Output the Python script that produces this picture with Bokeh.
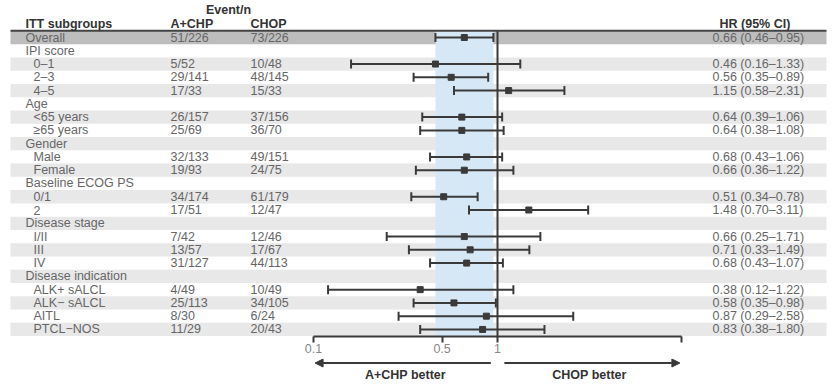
import numpy as np
from bokeh.plotting import figure
from bokeh.layouts import column
from bokeh.models import (Range1d, LogScale, LogAxis, FixedTicker, ColumnDataSource,
                          Arrow, NormalHead, Label, NumeralTickFormatter)
from bokeh.core.properties import value
from bokeh.embed import file_html
from bokeh.resources import INLINE

# ---------------- data ----------------
labels = ["Overall", "IPI score", "0–1", "2–3", "4–5", "Age", "<65 years", "≥65 years",
          "Gender", "Male", "Female", "Baseline ECOG PS", "0/1", "2", "Disease stage",
          "I/II", "III", "IV", "Disease indication", "ALK+ sALCL", "ALK− sALCL", "AITL",
          "PTCL−NOS"]
level = [0, 0, 1, 1, 1, 0, 1, 1, 0, 1, 1, 0, 1, 1, 0, 1, 1, 1, 0, 1, 1, 1, 1]
events_achp = ["51/226", "", "5/52", "29/141", "17/33", "", "26/157", "25/69", "",
               "32/133", "19/93", "", "34/174", "17/51", "", "7/42", "13/57", "31/127",
               "", "4/49", "25/113", "8/30", "11/29"]
events_chop = ["73/226", "", "10/48", "48/145", "15/33", "", "37/156", "36/70", "",
               "49/151", "24/75", "", "61/179", "12/47", "", "12/46", "17/67", "44/113",
               "", "10/49", "34/105", "6/24", "20/43"]
hr = [0.66, None, 0.46, 0.56, 1.15, None, 0.64, 0.64, None, 0.68, 0.66, None, 0.51, 1.48,
      None, 0.66, 0.71, 0.68, None, 0.38, 0.58, 0.87, 0.83]
ci_lo = [0.46, None, 0.16, 0.35, 0.58, None, 0.39, 0.38, None, 0.43, 0.36, None, 0.34, 0.70,
         None, 0.25, 0.33, 0.43, None, 0.12, 0.35, 0.29, 0.38]
ci_hi = [0.95, None, 1.33, 0.89, 2.31, None, 1.06, 1.08, None, 1.06, 1.22, None, 0.78, 3.11,
         None, 1.71, 1.49, 1.07, None, 1.22, 0.98, 2.58, 1.80]
axis_ticks = [0.1, 0.5, 1, 10]
header_cols = ["ITT subgroups", "A+CHP", "CHOP", "HR (95% CI)"]
better_labels = ["A+CHP better", "CHOP better"]

# ---------------- layout ----------------
FONT = "Liberation Sans"
DARK = "#3a3a3a"
TXT = "#666666"
n = len(labels)
W = 838
H_TOP, H_BOT = 358, 26
FRAME_BOTTOM = 336          # px
ROW0, ROW_H = 37.0, 13.27   # px centre of first row, row pitch
X0_PX, DEC_PX = 313, 184.0  # px of HR=0.1 and px per decade
hr_start = 10 ** (-1 - X0_PX / DEC_PX)
hr_end = 10 ** (-1 + (W - X0_PX) / DEC_PX)
y_top = (0 - ROW0) / ROW_H
y_bot = (FRAME_BOTTOM - ROW0) / ROW_H

p = figure(width=W, height=H_TOP, output_backend="svg", toolbar_location=None,
           x_range=Range1d(0, W), y_range=Range1d(y_bot, y_top),
           x_axis_type=None, y_axis_type=None,
           min_border_left=0, min_border_right=0, min_border_top=0,
           min_border_bottom=H_TOP - FRAME_BOTTOM,
           outline_line_color=None, background_fill_color="white")
p.extra_x_ranges = {"hr": Range1d(hr_start, hr_end)}
p.extra_x_scales = {"hr": LogScale()}

rows = list(range(n))

# stripes
s_idx = [i for i in rows if i % 2 == 0]
s_col = ["#bdbdbe" if i == 0 else "#e8e8e9" for i in s_idx]
p.quad(left=10, right=826, top=[i - 0.5 for i in s_idx], bottom=[i + 0.5 for i in s_idx],
       fill_color=s_col, line_color=None)

# overall CI band
p.quad(left=[ci_lo[0]], right=[ci_hi[0]], top=[-0.5], bottom=[n - 0.5],
       fill_color="#d6e8f6", line_color=None, x_range_name="hr")

# reference line at HR=1
p.segment(x0=[1], x1=[1], y0=[-0.5], y1=[y_bot], line_color=DARK, line_width=2,
          x_range_name="hr")
# header rule
p.segment(x0=[10], x1=[826], y0=[-0.5], y1=[-0.5], line_color="#444444", line_width=2)

# forest marks
f_idx = [i for i in rows if hr[i] is not None]
fsrc = ColumnDataSource(dict(y=f_idx, hr=[hr[i] for i in f_idx],
                             lo=[ci_lo[i] for i in f_idx], hi=[ci_hi[i] for i in f_idx]))
p.segment(x0="lo", x1="hi", y0="y", y1="y", source=fsrc, line_color=DARK, line_width=2,
          x_range_name="hr")
for col in ("lo", "hi"):
    p.scatter(x=col, y="y", source=fsrc, marker="dash", angle=np.pi / 2, size=9,
              line_color=DARK, line_width=2, x_range_name="hr")
p.scatter(x="hr", y="y", source=fsrc, marker="square", size=6, fill_color=DARK,
          line_color=DARK, x_range_name="hr")

# table text
tsrc = ColumnDataSource(dict(
    x=[25 if lv == 0 else 33 for lv in level], y=rows, t=labels,
    a=events_achp, c=events_chop,
    h=[("" if hr[i] is None else f"{hr[i]:.2f} ({ci_lo[i]:.2f}–{ci_hi[i]:.2f})") for i in rows],
))
tkw = dict(source=tsrc, text_font=value(FONT), text_font_size=value("12.5px"),
           text_baseline="middle", text_color=TXT)
p.text(x="x", y="y", text="t", **tkw)
p.text(x=170, y="y", text="a", **tkw)
p.text(x=250, y="y", text="c", **tkw)
p.text(x=712, y="y", text="h", **tkw)

# headers
hsrc = ColumnDataSource(dict(x=[25, 170, 250, 719], y=[-0.98] * 4, t=header_cols))
p.text(x="x", y="y", text="t", source=hsrc, text_font=value(FONT),
       text_font_size=value("12.5px"), text_font_style="bold", text_baseline="middle",
       text_color="#333333")
p.text(x=[228], y=[-2.1], text=["Event/n"], text_font=value(FONT),
       text_font_size=value("12.5px"), text_font_style="bold", text_baseline="middle",
       text_align="center", text_color="#333333")

# axis
ax = LogAxis(x_range_name="hr", ticker=FixedTicker(ticks=axis_ticks), bounds=(0.1, 10),
             formatter=NumeralTickFormatter(format="0.[0]"),
             major_label_overrides={10: ""})
ax.major_tick_in = 0
ax.major_tick_out = 6
ax.minor_tick_out = 0
ax.minor_tick_in = 0
ax.axis_line_width = 2
ax.axis_line_color = DARK
ax.major_tick_line_width = 2
ax.major_tick_line_color = DARK
ax.major_label_text_color = "#888888"
ax.major_label_text_font = FONT
ax.major_label_text_font_size = "12.5px"
ax.major_label_standoff = 1
p.add_layout(ax, "below")

# ---------------- bottom strip: direction arrows ----------------
q = figure(width=W, height=H_BOT, output_backend="svg", toolbar_location=None,
           x_range=Range1d(0, W), y_range=Range1d(H_BOT, 0),
           x_axis_type=None, y_axis_type=None,
           min_border_left=0, min_border_right=0, min_border_top=0, min_border_bottom=0,
           outline_line_color=None, background_fill_color="white")
q.extra_x_ranges = {"hr": Range1d(hr_start, hr_end)}
q.extra_x_scales = {"hr": LogScale()}
y_arrow, y_lab = 4.5, 16.5
q.add_layout(Arrow(end=NormalHead(size=8, fill_color=DARK, line_color=DARK),
                   x_start=0.92, y_start=y_arrow, x_end=0.102, y_end=y_arrow,
                   line_color=DARK, line_width=2, x_range_name="hr"))
q.add_layout(Arrow(end=NormalHead(size=8, fill_color=DARK, line_color=DARK),
                   x_start=1.09, y_start=y_arrow, x_end=9.8, y_end=y_arrow,
                   line_color=DARK, line_width=2, x_range_name="hr"))
for xv, t in zip([0.316, 3.16], better_labels):
    q.add_layout(Label(x=xv, y=y_lab, text=t, x_range_name="hr", text_align="center",
                       text_baseline="middle", text_font=FONT, text_font_size="12.5px",
                       text_font_style="bold", text_color="#333333"))

layout = column(p, q, spacing=0)
open("out.html", "w").write(file_html(layout, INLINE))
